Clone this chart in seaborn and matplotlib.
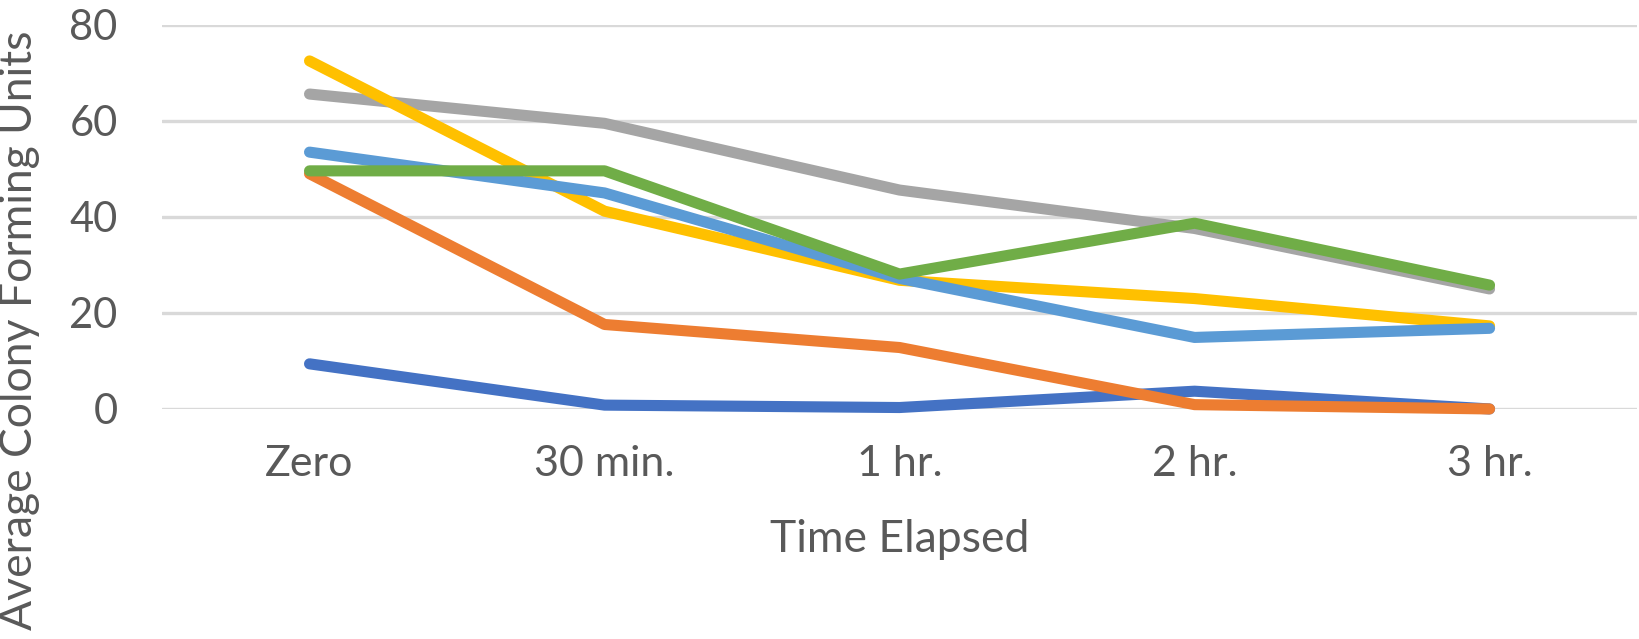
import matplotlib
matplotlib.use("Agg")
import matplotlib.pyplot as plt
import seaborn as sns
import pandas as pd

categories = ["Zero", "30 min.", "1 hr.", "2 hr.", "3 hr."]
series_names = ["Series 1", "Series 2", "Series 3", "Series 4", "Series 5", "Series 6"]
s1 = [9.4, 0.8, 0.3, 3.7, 0.0]
s2 = [49.0, 17.6, 12.8, 0.9, 0.0]
s3 = [65.6, 59.5, 45.6, 37.6, 25.0]
s4 = [72.5, 41.2, 26.8, 23.0, 17.3]
s5 = [53.5, 45.0, 27.2, 14.9, 16.8]
s6 = [49.6, 49.6, 28.1, 38.7, 25.8]
colors = ["#4472C4", "#ED7D31", "#A5A5A5", "#FFC000", "#5B9BD5", "#70AD47"]
y_ticks = [0, 20, 40, 60, 80]

rows = []
for name, vals in zip(series_names, [s1, s2, s3, s4, s5, s6]):
    for c, v in zip(categories, vals):
        rows.append({"Time": c, "CFU": v, "Series": name})
df = pd.DataFrame(rows)

sns.set_theme(style="white")
plt.rcParams["font.family"] = ["Lato", "DejaVu Sans"]

fig = plt.figure(figsize=(16.4, 6.39), dpi=100)
ax = fig.add_axes([0.0988, 0.36, 0.8994, 0.601])

sns.lineplot(data=df, x="Time", y="CFU", hue="Series", palette=colors,
             hue_order=series_names, sort=False, linewidth=8, legend=False,
             ax=ax, zorder=3)
for ln in ax.lines:
    ln.set_solid_capstyle("round")
    ln.set_solid_joinstyle("round")
    ln.set_clip_on(False)

ax.set_xlim(-0.5, 4.5)
ax.set_ylim(0, 80)
ax.set_yticks(y_ticks)
ax.set_yticklabels([str(t) for t in y_ticks])
ax.yaxis.grid(True, color="#d9d9d9", linewidth=2.4, zorder=0)
ax.set_axisbelow(True)
for sp in ax.spines.values():
    sp.set_visible(False)
ax.tick_params(axis="both", length=0, colors="#595959")
ax.tick_params(axis="y", pad=32, labelsize=30)
ax.tick_params(axis="x", pad=26, labelsize=31)
ax.set_xlabel("Time Elapsed", fontsize=32, color="#595959", labelpad=26)
ax.set_ylabel("Average Colony Forming Units", fontsize=32, color="#595959")
ax.yaxis.set_label_coords(-0.0825, 0.205)

fig.savefig("out.png", dpi=100)
